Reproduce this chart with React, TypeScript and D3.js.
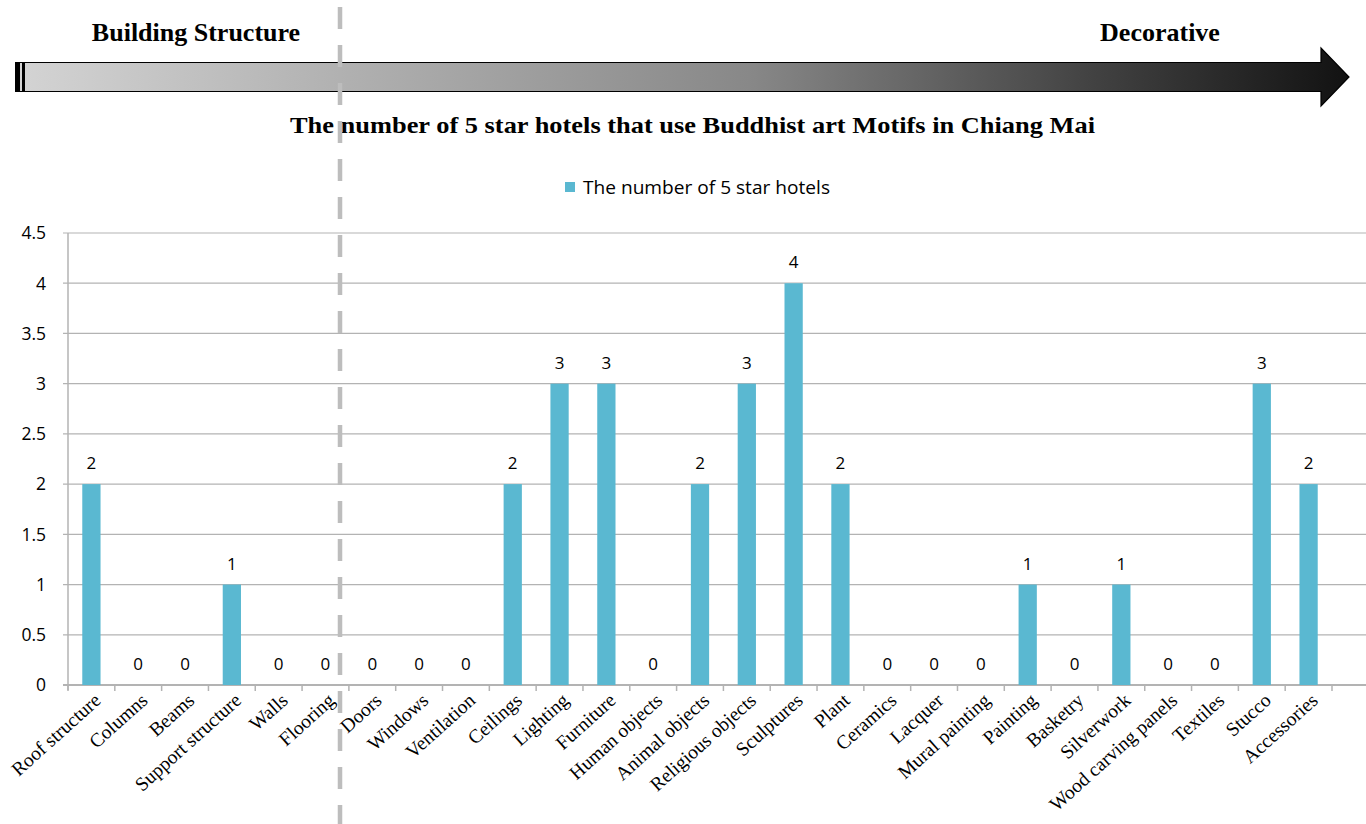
import React from "react";
import * as d3 from "d3";

const categories = [
  "Roof structure", "Columns", "Beams", "Support structure", "Walls", "Flooring",
  "Doors", "Windows", "Ventilation", "Ceilings", "Lighting", "Furniture",
  "Human objects", "Animal objects", "Religious objects", "Sculptures", "Plant",
  "Ceramics", "Lacquer", "Mural painting", "Painting", "Basketry", "Silverwork",
  "Wood carving panels", "Textiles", "Stucco", "Accessories",
];
const hotelCounts = [2, 0, 0, 1, 0, 0, 0, 0, 0, 2, 3, 3, 0, 2, 3, 4, 2, 0, 0, 0, 1, 0, 1, 0, 0, 3, 2];
const yTicks = [0, 0.5, 1, 1.5, 2, 2.5, 3, 3.5, 4, 4.5];
const seriesName = "The number of 5 star hotels";
const chartTitle = "The number of 5 star hotels that use Buddhist art Motifs in Chiang Mai";
const leftLabel = "Building Structure";
const rightLabel = "Decorative";

const W = 1366;
const H = 824;
const sans = "'Open Sans', 'Liberation Sans', sans-serif";
const serif = "'Liberation Serif', 'Times New Roman', serif";
const barColor = "#5ab8d1";
const gridColor = "#b3b3b3";

export default function App() {
  const x = d3.scaleBand<string>().domain(categories).range([68, 1332]).paddingInner(0).paddingOuter(0);
  const y = d3.scaleLinear().domain([0, 4.5]).range([685, 233]);
  const bw = x.bandwidth();
  const barW = bw * 0.39;
  const boundaries = d3.range(categories.length + 1).map((i) => 68 + i * bw);

  return (
    <div style={{ position: "absolute", left: 0, top: 0, width: W, height: H, background: "#fff" }}>
      <svg width={W} height={H} style={{ display: "block" }}>
        <defs>
          <linearGradient id="arrowGrad" x1="0" x2="1" y1="0" y2="0">
            <stop offset="0" stopColor="#d4d4d4" />
            <stop offset="0.25" stopColor="#b0b0b0" />
            <stop offset="0.55" stopColor="#888888" />
            <stop offset="0.8" stopColor="#444444" />
            <stop offset="1" stopColor="#121212" />
          </linearGradient>
        </defs>

        {/* top arrow */}
        <path
          d="M16,62.5 L1321,62.5 L1321,48 L1349,77 L1321,106 L1321,91.5 L16,91.5 Z"
          fill="url(#arrowGrad)"
          stroke="#000"
          strokeWidth={1.2}
        />
        <rect x={15} y={62} width={5} height={30} fill="#000" />
        <rect x={22} y={62} width={3} height={30} fill="#000" />
        <text x={196} y={41} textAnchor="middle" fontFamily={serif} fontWeight="bold" fontSize={26} fill="#000">
          {leftLabel}
        </text>
        <text x={1160} y={41} textAnchor="middle" fontFamily={serif} fontWeight="bold" fontSize={26} fill="#000">
          {rightLabel}
        </text>
        <text
          x={290}
          y={133}
          textLength={805}
          lengthAdjust="spacingAndGlyphs"
          fontFamily={serif}
          fontWeight="bold"
          fontSize={23}
          fill="#000"
        >
          {chartTitle}
        </text>

        {/* legend */}
        <rect x={565} y={182} width={10} height={10} fill={barColor} />
        <text x={583} y={194} textLength={247} lengthAdjust="spacingAndGlyphs" fontFamily={sans} fontSize={18} fill="#000">
          {seriesName}
        </text>

        {/* gridlines */}
        {yTicks.map((t) => (
          <g key={t}>
            <line x1={63} x2={1366} y1={y(t)} y2={y(t)} stroke={gridColor} strokeWidth={1.2} />
            <text x={46} y={y(t)} dy="0.36em" textAnchor="end" fontFamily={sans} fontSize={17.5} fill="#000">
              {t}
            </text>
          </g>
        ))}
        <line x1={68} x2={68} y1={233} y2={690} stroke={gridColor} strokeWidth={1.5} />
        <line x1={63} x2={1366} y1={685} y2={685} stroke={gridColor} strokeWidth={1.8} />
        {boundaries.map((b, i) => (
          <line key={i} x1={b} x2={b} y1={685} y2={691} stroke={gridColor} strokeWidth={1.5} />
        ))}

        {/* bars */}
        {categories.map((c, i) => {
          const cx = (x(c) as number) + bw / 2;
          const v = hotelCounts[i];
          return (
            <g key={c}>
              {v > 0 && (
                <rect x={cx - barW / 2} y={y(v)} width={barW} height={y(0) - y(v)} fill={barColor} />
              )}
              <text x={cx} y={y(v) - 15} textAnchor="middle" fontFamily={sans} fontSize={17} fill="#000">
                {v}
              </text>
              <text
                transform={`translate(${cx + 6},${697}) rotate(-42)`}
                textAnchor="end"
                dy="0.35em"
                fontFamily={serif}
                fontSize={19.5}
                fill="#000"
              >
                {c}
              </text>
            </g>
          );
        })}

        {/* dashed divider */}
        <line x1={340} x2={340} y1={5} y2={824} stroke="#bdbdbd" strokeWidth={4.5} strokeDasharray="22 16" strokeDashoffset={-2} />
      </svg>
    </div>
  );
}
